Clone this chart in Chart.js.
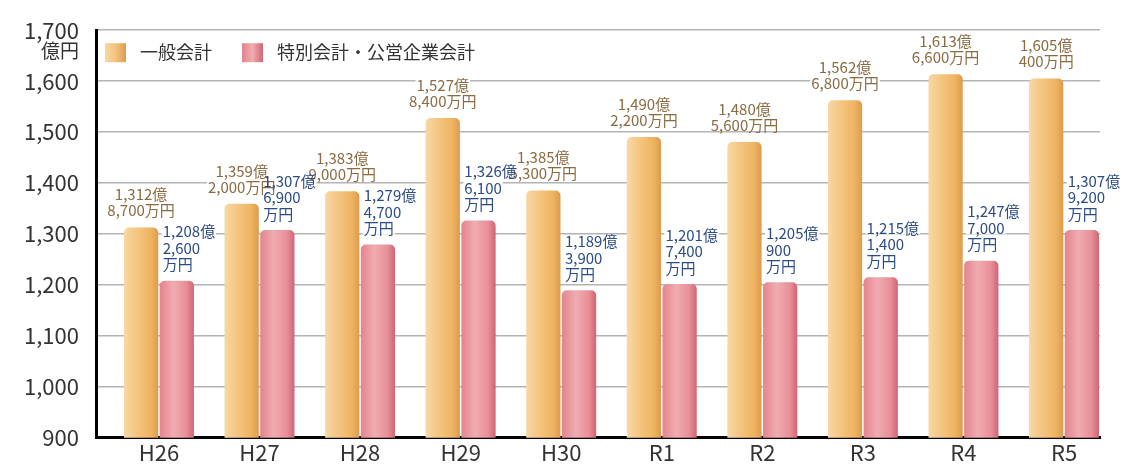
<!DOCTYPE html>
<html lang="ja">
<head>
<meta charset="utf-8">
<script src="https://cdn.jsdelivr.net/npm/chart.js@4/dist/chart.umd.min.js"></script>
<style>
  html, body { margin: 0; padding: 0; background: #fff; }
  #wrap { width: 1125px; height: 468px; }
</style>
</head>
<body>
<div id="wrap"><canvas id="budgetChart" width="1125" height="468"></canvas></div>
<script>
// 年度
const years = ['H26', 'H27', 'H28', 'H29', 'H30', 'R1', 'R2', 'R3', 'R4', 'R5'];
// 一般会計（億円）
const general = [1312.87, 1359.20, 1383.90, 1527.84, 1385.53, 1490.22, 1480.56, 1562.68, 1613.66, 1605.04];
// 特別会計・公営企業会計（億円）
const special = [1208.26, 1307.69, 1279.47, 1326.61, 1189.39, 1201.74, 1205.09, 1215.14, 1247.70, 1307.92];
const seriesNames = ['一般会計', '特別会計・公営企業会計'];

const CAT_PCT = 0.71;
const BAR_PCT = 0.96;

const orangeStops = ['#f8d8a4', '#f4c47f', '#eeb461', '#dc9b4e'];
const pinkStops = ['#e2848e', '#f0acb1', '#e88f98', '#cf6573'];

Chart.defaults.font.family = "'Noto Sans CJK JP', 'Noto Sans', sans-serif";

function fmt(n) {
  return n.toLocaleString('en-US');
}

function splitAmount(v) {
  const oku = Math.floor(v);
  const man = Math.round((v - oku) * 10000);
  return [fmt(oku) + '億', fmt(man)];
}

function barFill(stops) {
  return (c) => {
    const chart = c.chart;
    const x = chart.scales.x;
    if (!x || c.dataIndex == null || c.type !== 'data') return stops[2];
    const step = x.getPixelForValue(1) - x.getPixelForValue(0);
    const slot = step * CAT_PCT / 2;
    const w = slot * BAR_PCT;
    const left = x.getPixelForValue(c.dataIndex) - step * CAT_PCT / 2 + c.datasetIndex * slot + (slot - w) / 2;
    if (!isFinite(left) || !isFinite(w) || w <= 0) return stops[2];
    const g = chart.ctx.createLinearGradient(left, 0, left + w, 0);
    g.addColorStop(0, stops[0]);
    g.addColorStop(0.4, stops[1]);
    g.addColorStop(0.78, stops[2]);
    g.addColorStop(1, stops[3]);
    return g;
  };
}

const swatches = [orangeStops, pinkStops];

// 棒の上の金額ラベルと凡例
const valueLabels = {
  id: 'valueLabels',
  afterDatasetsDraw(chart) {
    const ctx = chart.ctx;
    const area = chart.chartArea;
    const items = [];
    const m0 = chart.getDatasetMeta(0);
    const m1 = chart.getDatasetMeta(1);
    general.forEach((v, i) => {
      const el = m0.data[i];
      const [a, b] = splitAmount(v);
      const lines = [a, b + '万円'];
      lines.forEach((t, k) => {
        items.push({ t, x: el.x, y: el.y - 17 - (lines.length - 1 - k) * 16, align: 'center', color: '#8b6b42' });
      });
    });
    special.forEach((v, i) => {
      const el = m1.data[i];
      const [a, b] = splitAmount(v);
      const lines = [a, b, '万円'];
      const left = el.x - el.width / 2 + 3;
      lines.forEach((t, k) => {
        items.push({ t, x: left, y: el.y - 16 - (lines.length - 1 - k) * 16.5, align: 'left', color: '#2c4c86' });
      });
    });

    ctx.save();
    ctx.font = "15px 'Noto Sans CJK JP', sans-serif";
    ctx.textBaseline = 'middle';
    // 背景（グリッド線を隠す）
    ctx.fillStyle = '#ffffff';
    items.forEach((it) => {
      const w = ctx.measureText(it.t).width;
      const x0 = it.align === 'center' ? it.x - w / 2 : it.x;
      ctx.fillRect(x0 - 1, it.y - 6, w + 2, 12);
    });
    items.forEach((it) => {
      ctx.fillStyle = it.color;
      ctx.textAlign = it.align;
      ctx.fillText(it.t, it.x, it.y);
    });

    // 凡例
    ctx.font = "18px 'Noto Sans CJK JP', sans-serif";
    ctx.textAlign = 'left';
    const legendY = area.top + 22;
    let lx = area.left + 9;
    seriesNames.forEach((name, i) => {
      const g = ctx.createLinearGradient(lx, 0, lx + 21, 0);
      g.addColorStop(0, swatches[i][0]);
      g.addColorStop(0.5, swatches[i][1]);
      g.addColorStop(1, swatches[i][3]);
      ctx.fillStyle = g;
      ctx.fillRect(lx, legendY - 9, 21, 19);
      ctx.fillStyle = '#333';
      ctx.fillText(name, lx + 35, legendY);
      lx += 35 + ctx.measureText(name).width + 30;
    });

    // 単位
    const y = chart.scales.y;
    ctx.font = "19px 'Noto Sans CJK JP', sans-serif";
    ctx.textAlign = 'right';
    ctx.fillText('億円', y.right - 17, y.getPixelForValue(1700) + 21);
    ctx.restore();
  },
};

new Chart(document.getElementById('budgetChart'), {
  type: 'bar',
  data: {
    datasets: [
      {
        label: seriesNames[0],
        data: general.map((v, i) => ({ x: i, y: v })),
        backgroundColor: barFill(orangeStops),
        borderRadius: { topLeft: 5, topRight: 5, bottomLeft: 0, bottomRight: 0 },
        borderSkipped: 'bottom',
        categoryPercentage: CAT_PCT,
        barPercentage: BAR_PCT,
      },
      {
        label: seriesNames[1],
        data: special.map((v, i) => ({ x: i, y: v })),
        backgroundColor: barFill(pinkStops),
        borderRadius: { topLeft: 5, topRight: 5, bottomLeft: 0, bottomRight: 0 },
        borderSkipped: 'bottom',
        categoryPercentage: CAT_PCT,
        barPercentage: BAR_PCT,
      },
    ],
  },
  options: {
    responsive: false,
    animation: false,
    layout: { padding: { top: 25, right: 25, left: 0, bottom: 0 } },
    plugins: {
      tooltip: { enabled: false },
      legend: { display: false },
    },
    scales: {
      x: {
        type: 'linear',
        offset: false,
        min: -0.626,
        max: 9.358,
        afterBuildTicks: (scale) => {
          scale.ticks = years.map((_, i) => ({ value: i }));
        },
        afterFit: (scale) => { scale.height = 30; },
        ticks: {
          autoSkip: false,
          maxRotation: 0,
          padding: 2,
          color: '#333',
          font: { size: 22 },
          callback: (v) => years[v],
        },
        grid: { display: false, drawTicks: false, offset: false },
        border: { color: '#000', width: 3 },
      },
      y: {
        min: 900,
        max: 1700,
        afterFit: (scale) => { scale.width = 96; },
        ticks: {
          stepSize: 100,
          padding: 17,
          color: '#333',
          font: { size: 22 },
          callback: (v) => fmt(v),
        },
        grid: { color: '#b4b4b4', lineWidth: 1.5, drawTicks: false },
        border: { color: '#000', width: 3 },
      },
    },
  },
  plugins: [valueLabels],
});
</script>
</body>
</html>
